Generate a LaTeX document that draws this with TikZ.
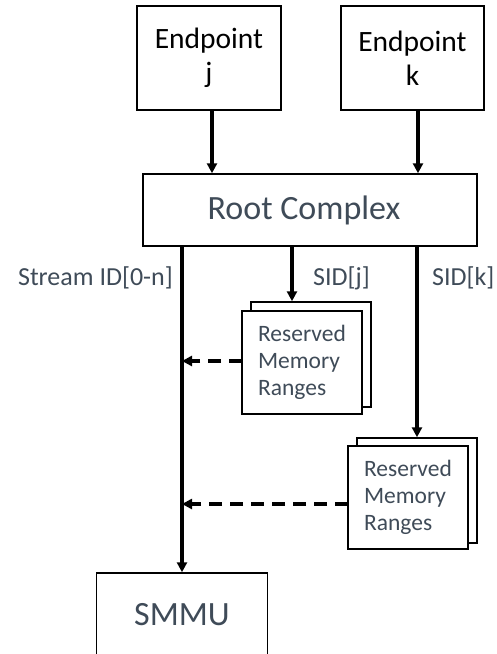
\documentclass[tikz,border=0pt]{standalone}
\usepackage{fontspec}
\setmainfont{Carlito}
\usetikzlibrary{arrows.meta}
\definecolor{txt}{HTML}{3F4B58}
\begin{document}
\begin{tikzpicture}[x=1pt,y=-1pt,
  box/.style={draw=black,line width=1.5pt,inner sep=0pt,fill=white,align=center},
  arr/.style={line width=3.3pt,-{Triangle[length=10pt,width=10pt]}},
  dasharr/.style={line width=3.3pt,dash pattern=on 13pt off 8pt,-{Triangle[length=10pt,width=10pt]}},
  lbl/.style={text=txt,inner sep=0pt,font=\fontsize{26}{30}\selectfont},
  rmr/.style={box,minimum width=120pt,minimum height=103pt,text=txt,align=left,font=\fontsize{23.5}{27}\selectfont}]
\useasboundingbox (0,0) rectangle (497,654);
\clip (0,0) rectangle (497,654);
% boxes
\node[box,minimum width=144pt,minimum height=104pt,font=\fontsize{29.5}{34}\selectfont] (ej) at (209,58) {Endpoint\\j};
\node[box,minimum width=143pt,minimum height=104pt,font=\fontsize{29.5}{34}\selectfont] (ek) at (412.5,58) {Endpoint\\k};
\node[box,minimum width=334pt,minimum height=72pt] (root) at (310,210) {};
\node[text=txt,font=\fontsize{34}{40}\selectfont,inner sep=0pt] (roottxt) at (304,210) {Root Complex};
\node[box,minimum width=120pt,minimum height=105pt] (rj2) at (311,354.5) {};
\node[rmr] (rj1) at (302,362.5) {Reserved\\Memory\\Ranges};
\node[box,minimum width=120pt,minimum height=105pt] (rk2) at (417,490.5) {};
\node[rmr] (rk1) at (408,497.5) {Reserved\\Memory\\Ranges};
\node[box,minimum width=171pt,minimum height=84pt,text=txt,font=\fontsize{34}{40}\selectfont] (smmu) at (182,615) {SMMU};
% labels
\node[lbl,anchor=east] (ls) at (173,278) {Stream ID[0-n]};
\node[lbl,anchor=west] (lj) at (313,278) {SID[j]};
\node[lbl,anchor=west] (lk) at (432,278) {SID[k]};
% helper coordinates
\coordinate (xj) at (212,0);
\coordinate (xk) at (418,0);
\coordinate (xsj) at (292,0);
\coordinate (dj) at (242,361);
\coordinate (dk) at (348,504);
% connectors
\draw[arr] (ej.south -| xj) -- (root.north -| xj);
\draw[arr] (ek.south -| xk) -- (root.north -| xk);
\draw[arr] (root.south -| smmu.north) -- (smmu.north);
\draw[arr] (root.south -| xsj) -- (rj2.north -| xsj);
\draw[arr] (root.south -| rk2.north) -- (rk2.north);
\draw[dasharr] (dj) -- (dj -| smmu.north);
\draw[dasharr] (dk) -- (dk -| smmu.north);
\end{tikzpicture}
\end{document}
